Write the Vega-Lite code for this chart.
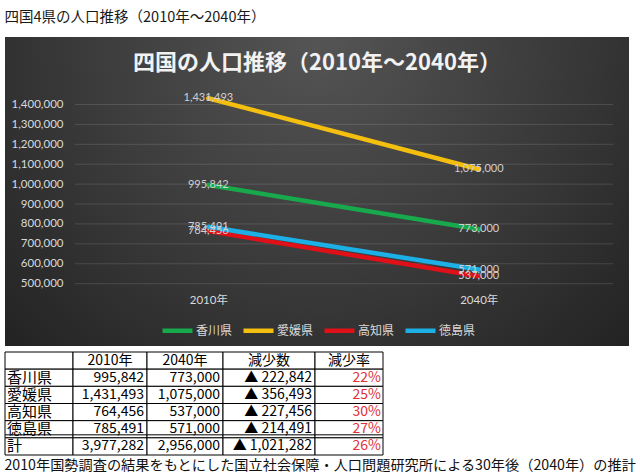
{
  "$schema": "https://vega.github.io/schema/vega-lite/v6.json",
  "background": "#ffffff",
  "padding": {"left": 4, "top": 9, "right": 4, "bottom": 0},
  "title": {"text": "四国4県の人口推移（2010年～2040年）", "anchor": "start", "fontSize": 14.5, "fontWeight": "normal", "color": "#1a1a1a", "font": "Noto Sans CJK JP", "offset": 12},
  "config": {"font": "Noto Sans CJK JP", "view": {"stroke": null}, "axis": {"labelOverlap": false}},
  "datasets": {
    "pop": [
      {"pref": "香川県", "year": 2010, "pop": 995842},
      {"pref": "香川県", "year": 2040, "pop": 773000},
      {"pref": "愛媛県", "year": 2010, "pop": 1431493},
      {"pref": "愛媛県", "year": 2040, "pop": 1075000},
      {"pref": "高知県", "year": 2010, "pop": 764456},
      {"pref": "高知県", "year": 2040, "pop": 537000},
      {"pref": "徳島県", "year": 2010, "pop": 785491},
      {"pref": "徳島県", "year": 2040, "pop": 571000}
    ],
    "grid": [
      {"v": 500000}, {"v": 600000}, {"v": 700000}, {"v": 800000}, {"v": 900000},
      {"v": 1000000}, {"v": 1100000}, {"v": 1200000}, {"v": 1300000}, {"v": 1400000}
    ],
    "table": [
      {"key": "見出し", "name": "", "y2010": "2010年", "y2040": "2040年", "dec": "減少数", "rate": "減少率"},
      {"key": "香川県", "name": "香川県", "y2010": "995,842", "y2040": "773,000", "dec": "▲ 222,842", "rate": "22%"},
      {"key": "愛媛県", "name": "愛媛県", "y2010": "1,431,493", "y2040": "1,075,000", "dec": "▲ 356,493", "rate": "25%"},
      {"key": "高知県", "name": "高知県", "y2010": "764,456", "y2040": "537,000", "dec": "▲ 227,456", "rate": "30%"},
      {"key": "徳島県", "name": "徳島県", "y2010": "785,491", "y2040": "571,000", "dec": "▲ 214,491", "rate": "27%"},
      {"key": "計", "name": "計", "y2010": "3,977,282", "y2040": "2,956,000", "dec": "▲ 1,021,282", "rate": "26%"}
    ]
  },
  "spacing": 6,
  "bounds": "flush",
  "vconcat": [
    {
      "width": 624,
      "height": 309,
      "view": {
        "stroke": null,
        "fill": {"gradient": "radial", "x1": 0.5, "y1": 0.25, "r1": 0, "x2": 0.5, "y2": 0.25, "r2": 0.8,
          "stops": [{"offset": 0, "color": "#555555"}, {"offset": 0.55, "color": "#363636"}, {"offset": 1, "color": "#1c1c1c"}]}
      },
      "title": {"text": "四国の人口推移（2010年～2040年）", "anchor": "middle", "fontSize": 22, "fontWeight": "bold", "color": "#f2f2f2", "offset": -38, "font": "Noto Sans CJK JP"},
      "layer": [
        {
          "data": {"name": "grid"},
          "mark": {"type": "rule", "color": "#ffffff", "opacity": 0.13, "strokeWidth": 1},
          "encoding": {
            "y": {"field": "v", "type": "quantitative", "scale": {"domain": [187000, 1739000], "nice": false, "zero": false},
              "axis": {"values": [500000, 600000, 700000, 800000, 900000, 1000000, 1100000, 1200000, 1300000, 1400000], "tickCount": 20, "format": ",.0f", "labelOverlap": false, "offset": -58, "labelPadding": 0, "ticks": false, "domain": false, "grid": false, "title": null, "labelColor": "#d9d9d9", "labelFontSize": 11.5, "labelFont": "Lato"}},
            "x": {"datum": 1995.2, "type": "quantitative", "scale": {"domain": [1987.444, 2056.667], "nice": false, "zero": false},
              "axis": {"values": [2010, 2040], "labelExpr": "datum.value + '年'", "labelOverlap": false, "orient": "bottom", "offset": -52, "labelPadding": 0, "ticks": false, "domain": false, "grid": false, "title": null, "labelColor": "#d9d9d9", "labelFontSize": 11.5, "labelFont": "Lato, Noto Sans CJK JP"}},
            "x2": {"datum": 2054.9}
          }
        },
        {
          "data": {"name": "pop"},
          "mark": {"type": "line", "strokeWidth": 4.5, "strokeCap": "round"},
          "encoding": {
            "x": {"field": "year", "type": "quantitative",
              "scale": {"domain": [1987.444, 2056.667], "nice": false, "zero": false},
              "axis": {"values": [2010, 2040], "labelExpr": "datum.value + '年'", "labelOverlap": false, "orient": "bottom", "offset": -52, "labelPadding": 0, "ticks": false, "domain": false, "grid": false, "title": null, "labelColor": "#d9d9d9", "labelFontSize": 11.5, "labelFont": "Lato, Noto Sans CJK JP"}},
            "y": {"field": "pop", "type": "quantitative",
              "scale": {"domain": [187000, 1739000], "nice": false, "zero": false},
              "axis": {"values": [500000, 600000, 700000, 800000, 900000, 1000000, 1100000, 1200000, 1300000, 1400000], "tickCount": 20, "format": ",.0f", "labelOverlap": false, "offset": -58, "labelPadding": 0, "ticks": false, "domain": false, "grid": false, "title": null, "labelColor": "#d9d9d9", "labelFontSize": 11.5, "labelFont": "Lato"}},
            "color": {"field": "pref", "type": "nominal",
              "scale": {"domain": ["香川県", "愛媛県", "高知県", "徳島県"], "range": ["#17a94b", "#f5bf10", "#e01018", "#1cb0e6"]},
              "legend": {"orient": "none", "legendX": 155, "legendY": 276, "direction": "horizontal", "columns": 4, "gridAlign": "all", "title": null, "symbolType": "stroke", "symbolSize": 900, "symbolStrokeWidth": 4.5, "labelColor": "#d9d9d9", "labelFontSize": 12, "labelFont": "Noto Sans CJK JP", "columnPadding": 1, "labelOffset": 1, "padding": 0}}
          }
        },
        {
          "data": {"name": "pop"},
          "mark": {"type": "text", "fontSize": 11, "font": "Lato", "color": "#d0d0d0", "baseline": "middle", "align": "center"},
          "encoding": {
            "x": {"field": "year", "type": "quantitative"},
            "y": {"field": "pop", "type": "quantitative"},
            "text": {"field": "pop", "type": "quantitative", "format": ",.0f"}
          }
        }
      ]
    },
    {
      "title": {"text": "2010年国勢調査の結果をもとにした国立社会保障・人口問題研究所による30年後（2040年）の推計", "orient": "bottom", "anchor": "start", "fontSize": 14.2, "fontWeight": "normal", "color": "#111111", "offset": 3, "font": "Noto Sans CJK JP"},
      "spacing": 0,
      "bounds": "flush",
      "hconcat": [
        {
          "width": 68, "height": 103, "data": {"name": "table"},
          "layer": [
            {"mark": {"type": "rect", "fill": "#ffffff", "stroke": "#000000", "strokeWidth": 1},
              "encoding": {"x": {"datum": "c", "type": "nominal", "scale": {"paddingInner": 0, "paddingOuter": 0}, "axis": null},
                "y": {"field": "key", "type": "nominal", "sort": ["見出し", "香川県", "愛媛県", "高知県", "徳島県", "計"], "scale": {"paddingInner": 0, "paddingOuter": 0}, "axis": null}}},
            {"transform": [{"filter": "datum.key !== '見出し'"}],
              "mark": {"type": "text", "fontSize": 15, "align": "left", "dx": -32, "color": "#000000", "baseline": "middle"},
              "encoding": {"x": {"datum": "c", "type": "nominal"}, "y": {"field": "key", "type": "nominal", "sort": ["見出し", "香川県", "愛媛県", "高知県", "徳島県", "計"]}, "text": {"field": "name"}}},
            {"transform": [{"filter": "datum.key === '計'"}],
              "mark": {"type": "rule", "color": "#000000", "yOffset": -3},
              "encoding": {"y": {"field": "key", "type": "nominal", "bandPosition": 0, "sort": ["見出し", "香川県", "愛媛県", "高知県", "徳島県", "計"]}}}
          ]
        },
        {
          "width": 74, "height": 103, "data": {"name": "table"},
          "layer": [
            {"mark": {"type": "rect", "fill": "#ffffff", "stroke": "#000000", "strokeWidth": 1},
              "encoding": {"x": {"datum": "c", "type": "nominal", "scale": {"paddingInner": 0, "paddingOuter": 0}, "axis": null},
                "y": {"field": "key", "type": "nominal", "sort": ["見出し", "香川県", "愛媛県", "高知県", "徳島県", "計"], "scale": {"paddingInner": 0, "paddingOuter": 0}, "axis": null}}},
            {"transform": [{"filter": "datum.key === '見出し'"}],
              "mark": {"type": "text", "fontSize": 14, "align": "center", "color": "#000000", "baseline": "middle"},
              "encoding": {"x": {"datum": "c", "type": "nominal"}, "y": {"field": "key", "type": "nominal", "sort": ["見出し", "香川県", "愛媛県", "高知県", "徳島県", "計"]}, "text": {"field": "y2010"}}},
            {"transform": [{"filter": "datum.key !== '見出し'"}],
              "mark": {"type": "text", "fontSize": 14, "align": "right", "dx": 34, "color": "#000000", "baseline": "middle"},
              "encoding": {"x": {"datum": "c", "type": "nominal"}, "y": {"field": "key", "type": "nominal", "sort": ["見出し", "香川県", "愛媛県", "高知県", "徳島県", "計"]}, "text": {"field": "y2010"}}},
            {"transform": [{"filter": "datum.key === '計'"}],
              "mark": {"type": "rule", "color": "#000000", "yOffset": -3},
              "encoding": {"y": {"field": "key", "type": "nominal", "bandPosition": 0, "sort": ["見出し", "香川県", "愛媛県", "高知県", "徳島県", "計"]}}}
          ]
        },
        {
          "width": 76, "height": 103, "data": {"name": "table"},
          "layer": [
            {"mark": {"type": "rect", "fill": "#ffffff", "stroke": "#000000", "strokeWidth": 1},
              "encoding": {"x": {"datum": "c", "type": "nominal", "scale": {"paddingInner": 0, "paddingOuter": 0}, "axis": null},
                "y": {"field": "key", "type": "nominal", "sort": ["見出し", "香川県", "愛媛県", "高知県", "徳島県", "計"], "scale": {"paddingInner": 0, "paddingOuter": 0}, "axis": null}}},
            {"transform": [{"filter": "datum.key === '見出し'"}],
              "mark": {"type": "text", "fontSize": 14, "align": "center", "color": "#000000", "baseline": "middle"},
              "encoding": {"x": {"datum": "c", "type": "nominal"}, "y": {"field": "key", "type": "nominal", "sort": ["見出し", "香川県", "愛媛県", "高知県", "徳島県", "計"]}, "text": {"field": "y2040"}}},
            {"transform": [{"filter": "datum.key !== '見出し'"}],
              "mark": {"type": "text", "fontSize": 14, "align": "right", "dx": 35, "color": "#000000", "baseline": "middle"},
              "encoding": {"x": {"datum": "c", "type": "nominal"}, "y": {"field": "key", "type": "nominal", "sort": ["見出し", "香川県", "愛媛県", "高知県", "徳島県", "計"]}, "text": {"field": "y2040"}}},
            {"transform": [{"filter": "datum.key === '計'"}],
              "mark": {"type": "rule", "color": "#000000", "yOffset": -3},
              "encoding": {"y": {"field": "key", "type": "nominal", "bandPosition": 0, "sort": ["見出し", "香川県", "愛媛県", "高知県", "徳島県", "計"]}}}
          ]
        },
        {
          "width": 92, "height": 103, "data": {"name": "table"},
          "layer": [
            {"mark": {"type": "rect", "fill": "#ffffff", "stroke": "#000000", "strokeWidth": 1},
              "encoding": {"x": {"datum": "c", "type": "nominal", "scale": {"paddingInner": 0, "paddingOuter": 0}, "axis": null},
                "y": {"field": "key", "type": "nominal", "sort": ["見出し", "香川県", "愛媛県", "高知県", "徳島県", "計"], "scale": {"paddingInner": 0, "paddingOuter": 0}, "axis": null}}},
            {"transform": [{"filter": "datum.key === '見出し'"}],
              "mark": {"type": "text", "fontSize": 14, "align": "center", "color": "#000000", "baseline": "middle"},
              "encoding": {"x": {"datum": "c", "type": "nominal"}, "y": {"field": "key", "type": "nominal", "sort": ["見出し", "香川県", "愛媛県", "高知県", "徳島県", "計"]}, "text": {"field": "dec"}}},
            {"transform": [{"filter": "datum.key !== '見出し'"}],
              "mark": {"type": "text", "fontSize": 14, "align": "right", "dx": 43, "color": "#000000", "baseline": "middle"},
              "encoding": {"x": {"datum": "c", "type": "nominal"}, "y": {"field": "key", "type": "nominal", "sort": ["見出し", "香川県", "愛媛県", "高知県", "徳島県", "計"]}, "text": {"field": "dec"}}},
            {"transform": [{"filter": "datum.key === '計'"}],
              "mark": {"type": "rule", "color": "#000000", "yOffset": -3},
              "encoding": {"y": {"field": "key", "type": "nominal", "bandPosition": 0, "sort": ["見出し", "香川県", "愛媛県", "高知県", "徳島県", "計"]}}}
          ]
        },
        {
          "width": 68, "height": 103, "data": {"name": "table"},
          "layer": [
            {"mark": {"type": "rect", "fill": "#ffffff", "stroke": "#000000", "strokeWidth": 1},
              "encoding": {"x": {"datum": "c", "type": "nominal", "scale": {"paddingInner": 0, "paddingOuter": 0}, "axis": null},
                "y": {"field": "key", "type": "nominal", "sort": ["見出し", "香川県", "愛媛県", "高知県", "徳島県", "計"], "scale": {"paddingInner": 0, "paddingOuter": 0}, "axis": null}}},
            {"transform": [{"filter": "datum.key === '見出し'"}],
              "mark": {"type": "text", "fontSize": 14, "align": "center", "color": "#000000", "baseline": "middle"},
              "encoding": {"x": {"datum": "c", "type": "nominal"}, "y": {"field": "key", "type": "nominal", "sort": ["見出し", "香川県", "愛媛県", "高知県", "徳島県", "計"]}, "text": {"field": "rate"}}},
            {"transform": [{"filter": "datum.key !== '見出し'"}],
              "mark": {"type": "text", "fontSize": 14, "align": "right", "dx": 32, "color": "#e0303a", "baseline": "middle"},
              "encoding": {"x": {"datum": "c", "type": "nominal"}, "y": {"field": "key", "type": "nominal", "sort": ["見出し", "香川県", "愛媛県", "高知県", "徳島県", "計"]}, "text": {"field": "rate"}}},
            {"transform": [{"filter": "datum.key === '計'"}],
              "mark": {"type": "rule", "color": "#000000", "yOffset": -3},
              "encoding": {"y": {"field": "key", "type": "nominal", "bandPosition": 0, "sort": ["見出し", "香川県", "愛媛県", "高知県", "徳島県", "計"]}}}
          ]
        }
      ]
    }
  ]
}
